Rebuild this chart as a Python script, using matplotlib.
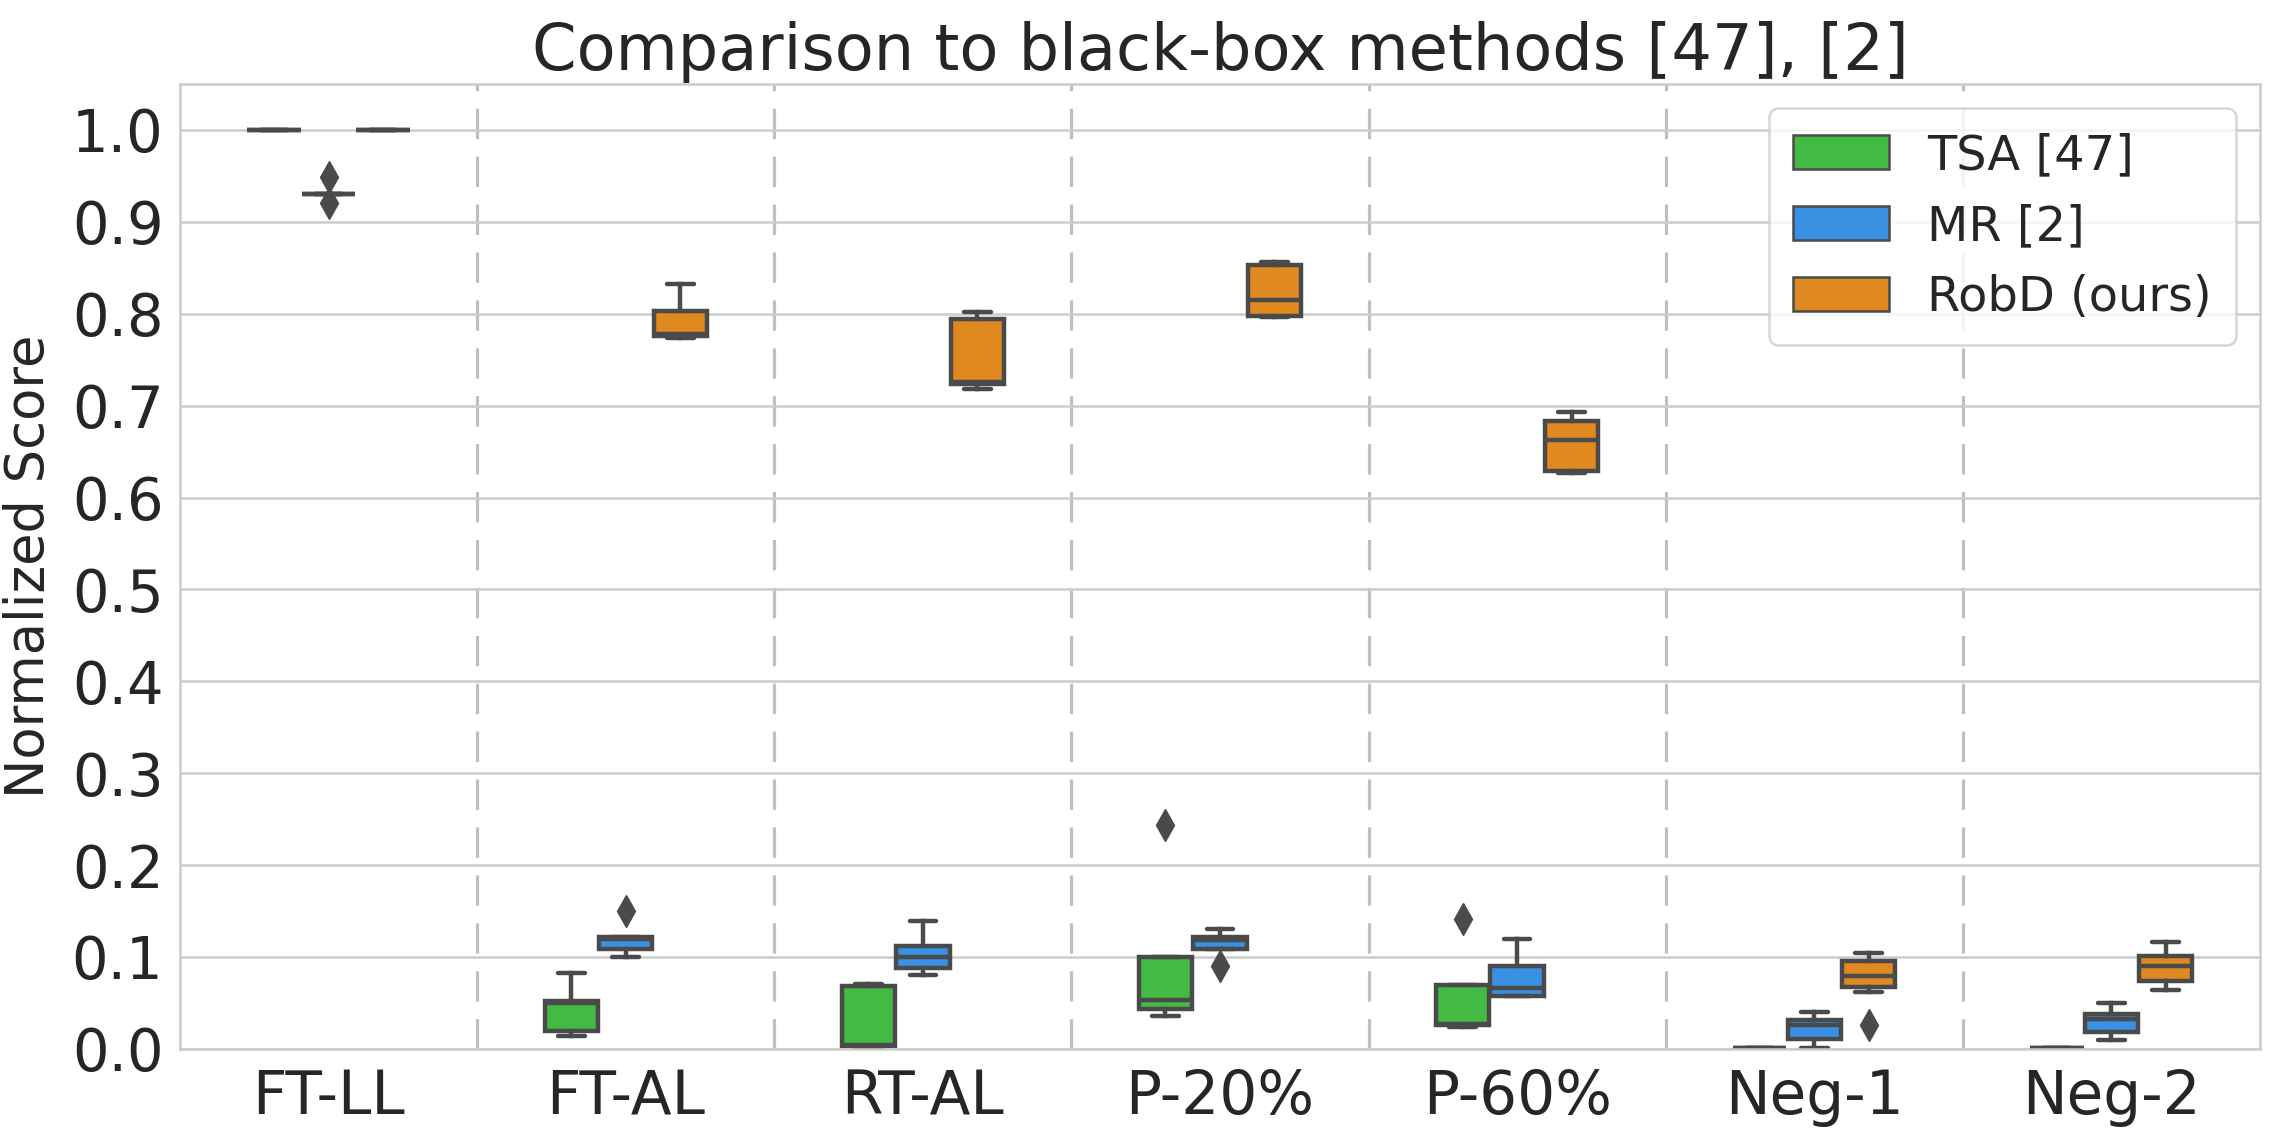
import matplotlib
matplotlib.use("Agg")
import matplotlib.pyplot as plt
from matplotlib.patches import Patch

categories = ["FT-LL", "FT-AL", "RT-AL", "P-20%", "P-60%", "Neg-1", "Neg-2"]
series = ["TSA [47]", "MR [2]", "RobD (ours)"]

# per category: [whisker_low, q1, median, q3, whisker_high]
tsa_stats = [
    [1.0, 1.0, 1.0, 1.0, 1.0],
    [0.0136, 0.0195, 0.050, 0.0525, 0.083],
    [0.001, 0.0033, 0.0045, 0.0685, 0.0707],
    [0.0355, 0.043, 0.0527, 0.100, 0.100],
    [0.024, 0.0255, 0.027, 0.069, 0.069],
    [0.001, 0.001, 0.001, 0.001, 0.001],
    [0.001, 0.001, 0.001, 0.001, 0.001],
]
tsa_fliers = [[], [], [], [0.244], [0.141], [], []]

mr_stats = [
    [0.930, 0.930, 0.930, 0.930, 0.930],
    [0.100, 0.1084, 0.119, 0.1216, 0.1216],
    [0.080, 0.0883, 0.100, 0.1117, 0.1396],
    [0.1084, 0.1084, 0.118, 0.1216, 0.130],
    [0.058, 0.058, 0.066, 0.0905, 0.1198],
    [0.001, 0.011, 0.026, 0.031, 0.0396],
    [0.0092, 0.0183, 0.033, 0.0377, 0.0495],
]
mr_fliers = [[0.949, 0.920], [0.1498], [], [0.0905], [], [], []]

robd_stats = [
    [1.0, 1.0, 1.0, 1.0, 1.0],
    [0.774, 0.776, 0.778, 0.803, 0.832],
    [0.7176, 0.7236, 0.726, 0.794, 0.8015],
    [0.7963, 0.7978, 0.8147, 0.8527, 0.8563],
    [0.6264, 0.6286, 0.6626, 0.6835, 0.693],
    [0.0623, 0.0678, 0.0795, 0.0952, 0.1044],
    [0.064, 0.0733, 0.0905, 0.1015, 0.1165],
]
robd_fliers = [[], [], [], [], [], [0.026], []]

colors = ["#43BA43", "#3A90E2", "#E08921"]
edge = "#4A4A4A"

all_stats = [tsa_stats, mr_stats, robd_stats]
all_fliers = [tsa_fliers, mr_fliers, robd_fliers]

plt.rcParams["font.family"] = ["DejaVu Sans"]
fig = plt.figure(figsize=(22.85, 11.29), dpi=100)
ax = fig.add_axes([0.0788, 0.071, 0.9102, 0.8546])
ax.set_facecolor("white")

width = 0.55 / 3
offsets = [-width, 0.0, width]
for s_i, (stats, fliers) in enumerate(zip(all_stats, all_fliers)):
    bstats = []
    for c_i, st in enumerate(stats):
        bstats.append(dict(whislo=st[0], q1=st[1], med=st[2], q3=st[3],
                           whishi=st[4], fliers=fliers[c_i]))
    pos = [i + offsets[s_i] for i in range(len(categories))]
    ax.bxp(bstats, positions=pos, widths=width * 0.98, patch_artist=True,
           showfliers=True, manage_ticks=False,
           boxprops=dict(facecolor=colors[s_i], edgecolor=edge, linewidth=3.2),
           medianprops=dict(color=edge, linewidth=3.2),
           whiskerprops=dict(color=edge, linewidth=3.2),
           capprops=dict(color=edge, linewidth=3.2, solid_capstyle="round"),
           flierprops=dict(marker="d", markerfacecolor=edge, markeredgecolor=edge,
                           markersize=16, linestyle="none"))

for i in range(len(categories) - 1):
    ax.axvline(i + 0.5, color="#BFBFBF", linewidth=2.3,
               linestyle=(0, (9.5, 5.5)), zorder=0)

ax.set_xlim(-0.5, len(categories) - 0.5)
ax.set_ylim(0, 1.05)
ax.set_xticks(range(len(categories)))
ax.set_xticklabels(categories)
ax.set_yticks([i / 10 for i in range(11)])
ax.set_yticklabels([f"{i/10:.1f}" for i in range(11)])
ax.yaxis.grid(True, color="#CCCCCC", linewidth=1.8, zorder=0)
ax.xaxis.grid(False)
ax.set_axisbelow(True)
for sp in ax.spines.values():
    sp.set_color("#CCCCCC")
    sp.set_linewidth(1.8)
ax.tick_params(axis="both", length=0, colors="#262626")
ax.tick_params(axis="y", labelsize=41.5, pad=12)
ax.tick_params(axis="x", labelsize=43, pad=14)
ax.set_ylabel("Normalized Score", fontsize=38, color="#262626", labelpad=12)
ax.set_title("Comparison to black-box methods [47], [2]", fontsize=46,
             color="#262626", pad=10)

handles = [Patch(facecolor=c, edgecolor=edge, linewidth=1.8, label=l)
           for c, l in zip(colors, series)]
leg = ax.legend(handles=handles, loc="upper right", fontsize=34.5,
                frameon=True, fancybox=True, framealpha=0.8, borderpad=0.5)
leg.get_frame().set_edgecolor("#CCCCCC")
leg.get_frame().set_linewidth(1.8)
for t in leg.get_texts():
    t.set_color("#262626")

fig.savefig("out.png", dpi=100, facecolor="white")
